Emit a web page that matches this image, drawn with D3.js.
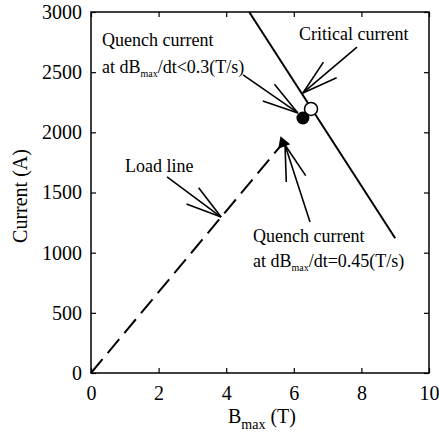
<!DOCTYPE html>
<html>
<head>
<meta charset="utf-8">
<script src="https://cdn.jsdelivr.net/npm/d3@7"></script>
<style>
  body { margin: 0; background: #fff; }
  text { font-family: "Liberation Serif", "Times New Roman", serif; fill: #000; }
</style>
</head>
<body>
<div id="chart"></div>
<script>
// Chart data
var xTicks = [0, 2, 4, 6, 8, 10];
var yTicks = [0, 500, 1000, 1500, 2000, 2500, 3000];

// Critical current line (B, I)
var criticalB = [4.68, 9.0];
var criticalI = [3000, 1120];

// Load line (dashed)
var loadB = [0, 5.68];
var loadI = [0, 1911];

// Measured points
var quenchSlow = [6.27, 2119];   // filled circle
var criticalPt = [6.51, 2194];   // open circle
var quenchFast = [5.68, 1911];   // triangle at end of load line

// Annotation arrows: [tailB, tailI, tipB, tipI]
var arrowTails = [[7.87, 2709], [4.50, 2477], [6.48, 1255], [2.25, 1629]];
var arrowTips = [[6.27, 2327], [6.12, 2161], [5.74, 1895], [3.85, 1296]];

var fullWidth = 439;
var fullHeight = 436;
var margin = {top: 12, right: 10, left: 91, bottom: 63};
var width = fullWidth - margin.left - margin.right;
var height = fullHeight - margin.top - margin.bottom;

var svg = d3.select('#chart')
    .append('svg')
    .attr('width', fullWidth)
    .attr('height', fullHeight)
    .append('g')
        .attr('transform', 'translate(' + margin.left + ',' + margin.top + ')');

var xScale = d3.scaleLinear().domain([0, 10]).range([0, width]);
var yScale = d3.scaleLinear().domain([0, 3000]).range([height, 0]);

// Axes with inward ticks
var xAxis = d3.axisBottom(xScale).tickValues(xTicks).tickFormat(d3.format('d'))
    .tickSizeInner(-5).tickSizeOuter(0).tickPadding(13);
var yAxis = d3.axisLeft(yScale).tickValues(yTicks).tickFormat(d3.format('d'))
    .tickSizeInner(-5).tickSizeOuter(0).tickPadding(9);

svg.append('g')
    .attr('transform', 'translate(0,' + height + ')')
    .call(xAxis);
svg.append('g').call(yAxis);

svg.append('g')
    .call(d3.axisTop(xScale).tickValues(xTicks).tickSizeInner(-5).tickSizeOuter(0).tickFormat(''));
svg.append('g')
    .attr('transform', 'translate(' + width + ',0)')
    .call(d3.axisRight(yScale).tickValues(yTicks).tickSizeInner(-5).tickSizeOuter(0).tickFormat(''));

svg.selectAll('.domain').remove();
svg.selectAll('.tick line').attr('stroke', '#000').attr('stroke-width', 1.2);
svg.selectAll('.tick text')
    .attr('font-family', 'Liberation Serif')
    .attr('font-size', 20)
    .style('font-family', '"Liberation Serif", serif')
    .style('font-size', '20px');

// Frame
svg.append('rect')
    .attr('width', width)
    .attr('height', height)
    .attr('fill', 'none')
    .attr('stroke', '#000')
    .attr('stroke-width', 1.5);

// Axis titles
var xt = svg.append('text')
    .attr('x', width / 2 + 2)
    .attr('y', height + 50)
    .attr('text-anchor', 'middle')
    .style('font-size', '20px');
xt.append('tspan').text('B');
xt.append('tspan').attr('dy', 6).style('font-size', '14px').text('max');
xt.append('tspan').attr('dy', -6).text(' (T)');

svg.append('text')
    .attr('transform', 'translate(' + (-64) + ',' + (184) + ') rotate(-90)')
    .attr('text-anchor', 'middle')
    .style('font-size', '20px')
    .text('Current (A)');

var line = d3.line()
    .x(function(d) { return xScale(d[0]); })
    .y(function(d) { return yScale(d[1]); });

// Critical current line
svg.append('path')
    .datum(criticalB.map(function(b, i) { return [b, criticalI[i]]; }))
    .attr('d', line)
    .attr('fill', 'none')
    .attr('stroke', '#000')
    .attr('stroke-width', 2);

// Load line
svg.append('path')
    .datum(loadB.map(function(b, i) { return [b, loadI[i]]; }))
    .attr('d', line)
    .attr('fill', 'none')
    .attr('stroke', '#000')
    .attr('stroke-width', 2)
    .attr('stroke-dasharray', '18,8');

// Arrows with open heads
var barbLen = 37;
var barbAngle = 16 * Math.PI / 180;
arrowTails.forEach(function(t, i) {
    var x1 = xScale(t[0]), y1 = yScale(t[1]);
    var x2 = xScale(arrowTips[i][0]), y2 = yScale(arrowTips[i][1]);
    var ang = Math.atan2(y1 - y2, x1 - x2);
    var g = svg.append('g').attr('stroke', '#000').attr('stroke-width', 1.6);
    g.append('line').attr('x1', x1).attr('y1', y1).attr('x2', x2).attr('y2', y2);
    [-1, 1].forEach(function(s) {
        g.append('line')
            .attr('x1', x2).attr('y1', y2)
            .attr('x2', x2 + barbLen * Math.cos(ang + s * barbAngle))
            .attr('y2', y2 + barbLen * Math.sin(ang + s * barbAngle));
    });
});

// Points
svg.append('circle')
    .attr('cx', xScale(criticalPt[0]))
    .attr('cy', yScale(criticalPt[1]))
    .attr('r', 6.5)
    .attr('fill', '#fff')
    .attr('stroke', '#000')
    .attr('stroke-width', 1.5);

svg.append('circle')
    .attr('cx', xScale(quenchSlow[0]))
    .attr('cy', yScale(quenchSlow[1]))
    .attr('r', 6.5)
    .attr('fill', '#000');

svg.append('path')
    .attr('d', d3.symbol().type(d3.symbolTriangle).size(70))
    .attr('transform', 'translate(' + xScale(quenchFast[0]) + ',' + yScale(quenchFast[1]) + ') rotate(-20)')
    .attr('fill', '#000');

// Annotation labels
function label(x, y, parts) {
    var t = svg.append('text')
        .attr('x', x - margin.left)
        .attr('y', y - margin.top)
        .style('font-size', '18px');
    parts.forEach(function(p) {
        var ts = t.append('tspan').text(p.text);
        if (p.sub) ts.attr('dy', 4).style('font-size', '10px');
        if (p.back) ts.attr('dy', -4);
    });
}

label(102, 46, [{text: 'Quench current'}]);
label(102, 73, [{text: 'at dB'}, {text: 'max', sub: true}, {text: '/dt<0.3(T/s)', back: true}]);
label(299, 40, [{text: 'Critical current'}]);
label(125, 172, [{text: 'Load line'}]);
label(253, 242, [{text: 'Quench current'}]);
label(253, 267, [{text: 'at dB'}, {text: 'max', sub: true}, {text: '/dt=0.45(T/s)', back: true}]);
</script>
</body>
</html>
